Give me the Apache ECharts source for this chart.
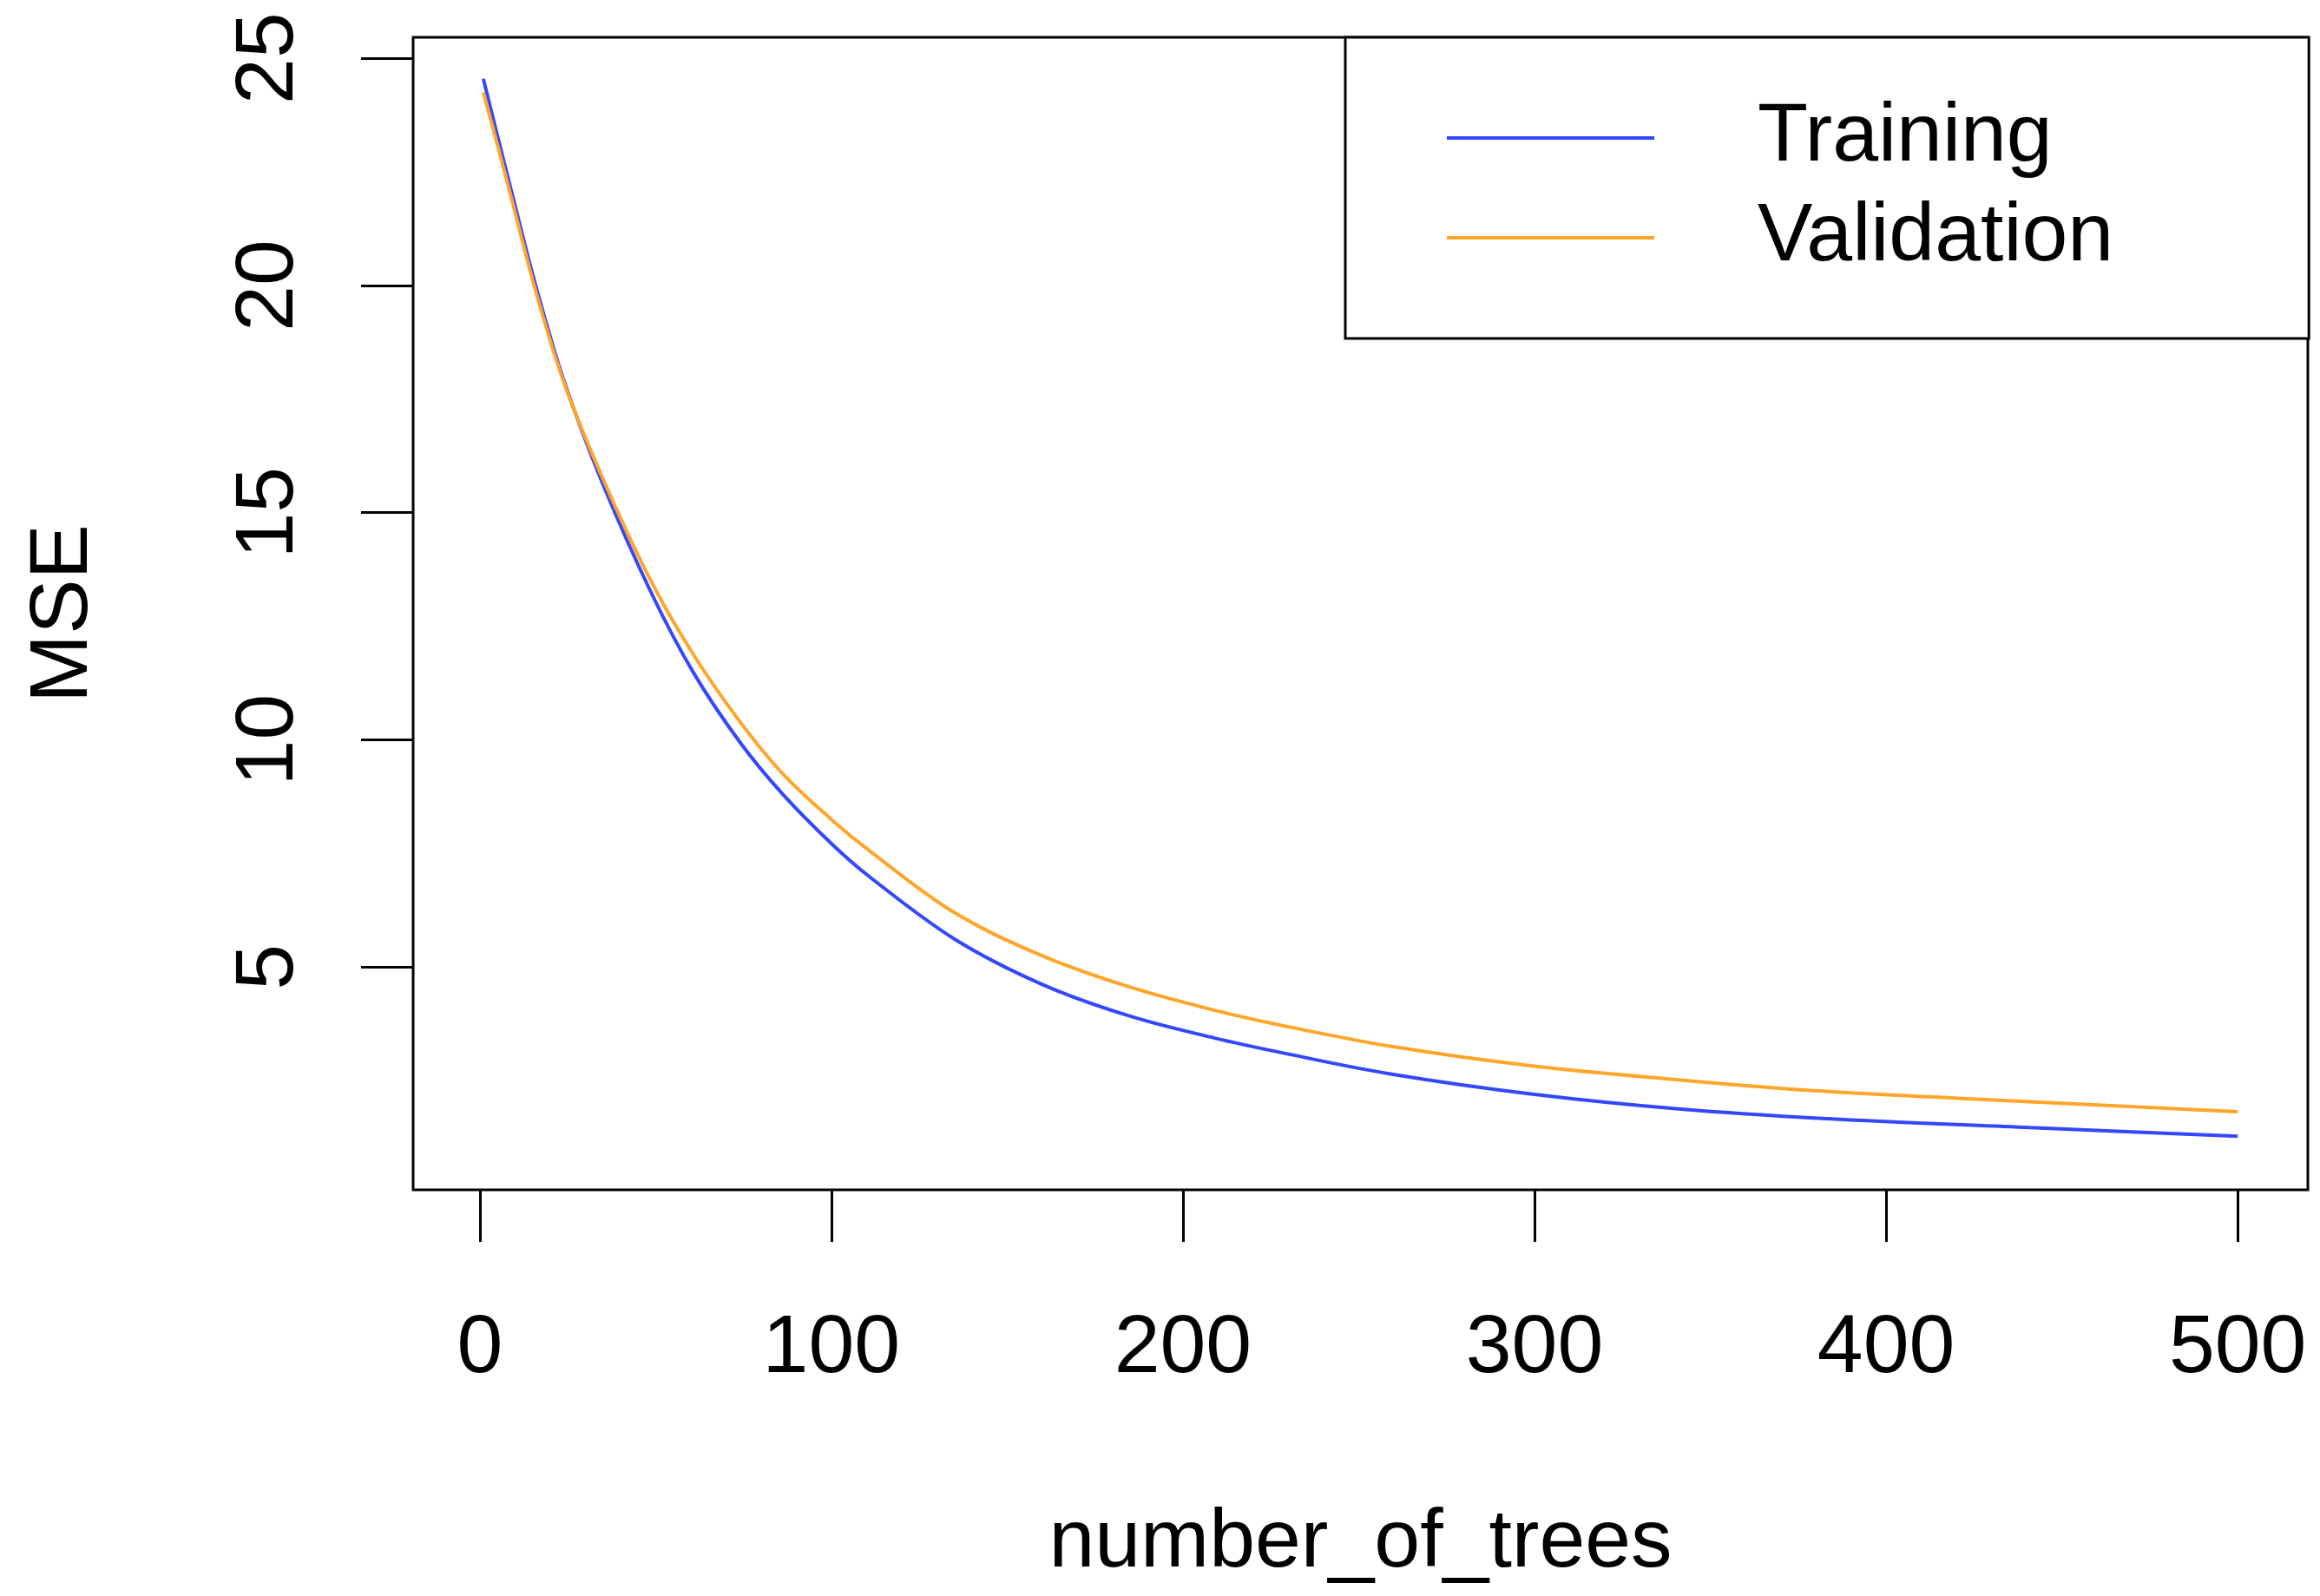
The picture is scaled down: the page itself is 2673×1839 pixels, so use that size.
<!DOCTYPE html>
<html>
<head>
<meta charset="utf-8">
<title>MSE vs number_of_trees</title>
<script src="https://cdn.jsdelivr.net/npm/echarts@6/dist/echarts.min.js"></script>
<style>
  html, body { margin: 0; padding: 0; background: #fff; }
  #chart { width: 2673px; height: 1839px; }
</style>
</head>
<body>
<div id="chart"></div>
<script>
// values
const trees = [1, 5, 9.4, 16, 24, 35, 49, 61, 74, 86, 100, 111, 135, 160, 185, 209, 228, 259, 300, 341, 382, 441, 500];
const training = [24.55, 23.3, 21.95, 19.97, 17.89, 15.63, 13.2, 11.45, 9.95, 8.82, 7.72, 6.98, 5.62, 4.62, 3.92, 3.44, 3.12, 2.65, 2.2, 1.88, 1.67, 1.47, 1.28];
const validation = [24.25, 23.1, 21.8, 19.85, 17.85, 15.75, 13.45, 11.85, 10.4, 9.27, 8.25, 7.55, 6.2, 5.25, 4.56, 4.05, 3.72, 3.26, 2.82, 2.52, 2.27, 2.04, 1.82];
const xTicks = [0, 100, 200, 300, 400, 500];
const yTicks = [5, 10, 15, 20, 25];

const font = 'Liberation Sans, Arial, Helvetica, sans-serif';

const pairs = (xs, ys) => xs.map((x, i) => [x, ys[i]]);

const initChart = () => {
    const myChart = echarts.init(document.getElementById('chart'));
    myChart.setOption({
        animation: false,
        backgroundColor: '#fff',
        textStyle: { fontFamily: font, color: '#000' },
        grid: {
            left: 476, top: 43, right: 14, bottom: 468,
            show: true, borderColor: '#000', borderWidth: 3, backgroundColor: 'transparent'
        },
        legend: {
            orient: 'vertical',
            left: 1550, top: 43,
            padding: [66, 225, 66, 117],
            borderColor: '#000', borderWidth: 3,
            backgroundColor: '#fff',
            icon: 'rect',
            itemWidth: 239, itemHeight: 4, itemGap: 15,
            selectedMode: false,
            textStyle: { fontSize: 95, lineHeight: 100, color: '#000', fontFamily: font, padding: [0, 0, 0, 114] },
            data: ['Training', 'Validation']
        },
        xAxis: {
            type: 'value',
            min: -18.96, max: 519.96,
            name: 'number_of_trees',
            nameLocation: 'middle',
            nameGap: 360,
            nameTextStyle: { fontSize: 95, color: '#000', fontFamily: font },
            splitLine: { show: false },
            axisLine: { show: false, onZero: false },
            axisTick: { show: true, length: 60, customValues: xTicks, lineStyle: { color: '#000', width: 3 } },
            axisLabel: { fontSize: 95, color: '#000', margin: 136, customValues: xTicks, fontFamily: font }
        },
        yAxis: {
            type: 'value',
            min: 0.1, max: 25.46,
            name: 'MSE',
            nameLocation: 'middle',
            nameGap: 355,
            nameTextStyle: { fontSize: 95, color: '#000', fontFamily: font },
            splitLine: { show: false },
            axisLine: { show: false, onZero: false },
            axisTick: { show: true, length: 60, customValues: yTicks, lineStyle: { color: '#000', width: 3 } },
            axisLabel: { fontSize: 95, color: '#000', margin: 118, rotate: 90, customValues: yTicks, fontFamily: font }
        },
        series: [
            {
                name: 'Training',
                type: 'line',
                data: pairs(trees, training),
                symbol: 'none',
                smooth: 0.35,
                color: '#3347ff',
                lineStyle: { color: '#3347ff', width: 4 }
            },
            {
                name: 'Validation',
                type: 'line',
                data: pairs(trees, validation),
                symbol: 'none',
                smooth: 0.35,
                color: '#ffa52a',
                lineStyle: { color: '#ffa52a', width: 4 }
            }
        ]
    });
};

window.addEventListener('load', initChart);
</script>
</body>
</html>
